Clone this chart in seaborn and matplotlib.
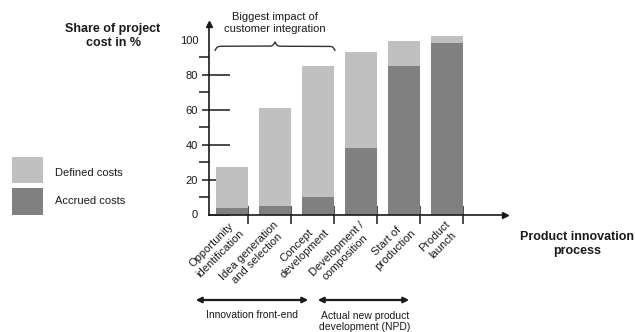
import numpy as np
import pandas as pd
import matplotlib
matplotlib.use("Agg")
import matplotlib.pyplot as plt
from matplotlib.patches import Rectangle, FancyArrowPatch
from matplotlib.lines import Line2D
import seaborn as sns

# Stages of the product innovation process
stages = [
    "Opportunity\nidentification",
    "Idea generation\nand selection",
    "Concept\ndevelopment",
    "Development /\ncomposition",
    "Start of\nproduction",
    "Product\nlaunch",
]
# Share of project cost in %
defined_costs = [27, 61, 85, 93, 99, 102]
accrued_costs = [4, 5, 10, 38, 85, 98]

y_ticks = [0, 20, 40, 60, 80, 100]
y_minor = [10, 30, 50, 70, 90]
y_major_marks = [20, 40, 60, 80]

legend_labels = ["Defined costs", "Accrued costs"]

LIGHT = "#c0c0c0"
DARK = "#808080"
INK = "#1a1a1a"

sns.set_theme(style="white")
plt.rcParams["font.family"] = ["Liberation Sans", "DejaVu Sans"]
plt.rcParams["text.color"] = INK

W, H = 635, 332
fig = plt.figure(figsize=(W / 100, H / 100), dpi=100)


def fx(px):
    return px / W


def fy(py):
    return 1 - py / H


# axes frame: origin at (209, 214.5) px, arrow tips at x=505 and y=24
ax = fig.add_axes([fx(209), fy(214.5), fx(505) - fx(209), fy(24) - fy(214.5)])

df = pd.DataFrame({"stage": stages, "defined": defined_costs, "accrued": accrued_costs})
sns.barplot(data=df, x="stage", y="defined", color=LIGHT, saturation=1,
            width=0.744, edgecolor="none", linewidth=0, ax=ax)
sns.barplot(data=df, x="stage", y="accrued", color=DARK, saturation=1,
            width=0.744, edgecolor="none", linewidth=0, ax=ax)

ax.set_xlim(-0.535, 6.349)
ax.set_ylim(0, 108.9)
ax.set_xlabel("")
ax.set_ylabel("")

for side in ["top", "right"]:
    ax.spines[side].set_visible(False)
for side in ["left", "bottom"]:
    ax.spines[side].set_color(INK)
    ax.spines[side].set_linewidth(1.2)

# arrowheads on both axes
ax.plot(1, 0, marker=">", color=INK, markersize=5, transform=ax.transAxes, clip_on=False)
ax.plot(0, 1, marker="^", color=INK, markersize=5, transform=ax.transAxes, clip_on=False)

# y ticks: long inward major ticks, short outward minor ticks
ax.set_yticks(y_ticks)
ax.set_yticklabels([str(v) for v in y_ticks])
ax.set_yticks(y_minor, minor=True)
ax.tick_params(axis="y", which="major", direction="in", length=15, width=1.1,
               color=INK, pad=7.8, labelsize=8, labelcolor=INK, left=True)
ax.tick_params(axis="y", which="minor", direction="out", length=7.5, width=1.1,
               color=INK, left=True)
ax.yaxis.get_major_ticks()[-1].tick1line.set_visible(False)

# short outward stubs of the major ticks
sec = ax.secondary_yaxis("left")
sec.set_yticks(y_major_marks)
sec.set_yticklabels([""] * len(y_major_marks))
sec.tick_params(axis="y", which="major", direction="out", length=5, width=1.1, color=INK)
sec.tick_params(axis="y", which="minor", left=False)
sec.spines["left"].set_visible(False)

# x ticks: separators at the right edge of each bar
n = len(stages)
ax.set_xticks([i + 0.372 for i in range(n)])
ax.set_xticklabels([""] * n)
ax.tick_params(axis="x", which="major", direction="inout", length=13, width=1.1,
               color=INK, bottom=True)

# rotated stage labels
for i, lab in enumerate(stages):
    ax.text(i - 0.05, -2.8, lab, rotation=45, ha="right", va="top",
            rotation_mode="anchor", multialignment="center", fontsize=8,
            linespacing=1.25, color=INK, clip_on=False)

# axis titles
fig.text(fx(113), fy(23), "Share of project\ncost in %", ha="center", va="top",
         fontsize=9, fontweight="bold", linespacing=1.25)
fig.text(fx(577), fy(231), "Product innovation\nprocess", ha="center", va="top",
         fontsize=9, fontweight="bold", linespacing=1.25)

# curly brace over the front-end stages
bx0, bx1 = 215, 335
xs = np.linspace(bx0, bx1, 401)
half = xs[:201]
beta = 0.9
v = 1 / (1 + np.exp(-beta * (half - half[0]))) + 1 / (1 + np.exp(-beta * (half - half[-1])))
v = np.concatenate([v, v[-2::-1]])
ys = 50.5 - (v - 0.5) * 8.5
fig.add_artist(Line2D(fx(xs), fy(ys), color="#333333", lw=1.0, transform=fig.transFigure))
fig.text(fx(275), fy(12), "Biggest impact of\ncustomer integration", ha="center",
         va="top", fontsize=8, linespacing=1.3)

# phase arrows below the stages
for x0, x1 in [(193, 311), (315, 412)]:
    fig.add_artist(FancyArrowPatch(
        (fx(x0), fy(300)), (fx(x1), fy(300)), transform=fig.transFigure,
        arrowstyle="<|-|>", mutation_scale=8, lw=1.6, color=INK))
fig.text(fx(252.5), fy(315), "Innovation front-end", ha="center", va="center", fontsize=7.5)
fig.text(fx(365), fy(321.5), "Actual new product\ndevelopment (NPD)", ha="center",
         va="center", fontsize=7.5, linespacing=1.2)

# legend swatches with their labels
for (top, bottom, text_y), col, lab in zip([(157, 183, 173), (188, 215, 201)],
                                          [LIGHT, DARK], legend_labels):
    fig.add_artist(Rectangle((fx(12), fy(bottom)), fx(43) - fx(12), fy(top) - fy(bottom),
                             transform=fig.transFigure, facecolor=col, edgecolor="none"))
    fig.text(fx(55), fy(text_y), lab, ha="left", va="center", fontsize=8)

fig.savefig("out.png", dpi=100)
